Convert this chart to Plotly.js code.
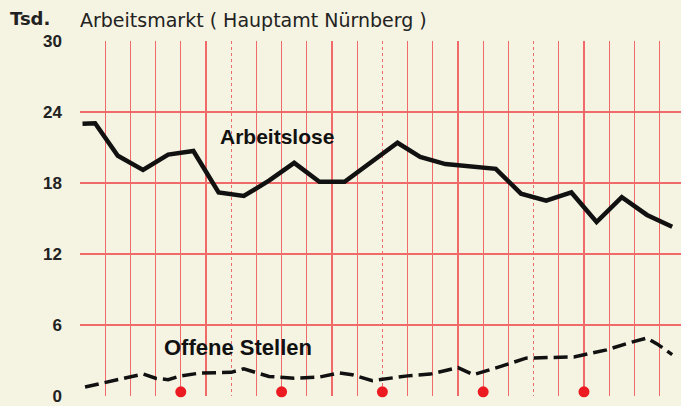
<!DOCTYPE html>
<html>
<head>
<meta charset="utf-8">
<script src="https://cdn.plot.ly/plotly-3.0.1.min.js"></script>
<style>
  html, body { margin: 0; padding: 0; background: #f5f3e1; }
  #chart { width: 681px; height: 406px; }
</style>
</head>
<body>
<div id="chart"></div>
<script>
// months since start of chart (0 = left edge), values in Tsd.
const monthsArbeitslose = [0.1, 0.6, 1.5, 2.5, 3.5, 4.5, 5.5, 6.5, 7.5, 8.5, 9.5, 10.5, 12.6, 13.5, 14.5, 15.5, 16.5, 17.5, 18.5, 19.5, 20.5, 21.5, 22.5, 23.5];
const arbeitslose = [23.0, 23.05, 20.3, 19.1, 20.4, 20.7, 17.2, 16.9, 18.2, 19.7, 18.1, 18.1, 21.4, 20.2, 19.6, 19.4, 19.2, 17.1, 16.5, 17.2, 14.7, 16.8, 15.3, 14.3];

const monthsOffene = [0.2, 0.5, 1.5, 2.5, 3.0, 3.5, 4.0, 4.8, 6.0, 6.5, 7.5, 8.5, 9.5, 10.3, 10.8, 11.6, 13.0, 13.9, 15.0, 15.6, 16.7, 17.7, 19.6, 20.9, 21.8, 22.5, 22.9, 23.5];
const offeneStellen = [0.76, 0.9, 1.4, 1.86, 1.5, 1.38, 1.7, 1.95, 2.0, 2.3, 1.65, 1.5, 1.6, 1.95, 1.8, 1.3, 1.7, 1.85, 2.4, 1.8, 2.5, 3.2, 3.3, 3.9, 4.5, 4.9, 4.4, 3.5];

const markerMonths = [4, 8, 12, 16, 20];
const markerLevel = [0.35, 0.35, 0.35, 0.35, 0.35];

const yTicks = [0, 6, 12, 18, 24, 30];
const solidMonths = [1, 2, 3, 4, 5, 7, 8, 9, 10, 11, 13, 14, 15, 16, 17, 19, 20, 21, 22, 23];
const dottedMonths = [0, 6, 12, 18];

const gridRed = "#f06a6a";
const helv = "Liberation Sans, Arial, sans-serif";
const wide = "DejaVu Sans, sans-serif";

const traces = [
    {
        x: monthsArbeitslose, y: arbeitslose,
        mode: "lines", type: "scatter",
        line: { color: "#111", width: 4.5 },
        hoverinfo: "skip"
    },
    {
        x: monthsOffene, y: offeneStellen,
        mode: "lines", type: "scatter",
        line: { color: "#111", width: 3.5, dash: "14px,6px" },
        hoverinfo: "skip"
    },
    {
        x: markerMonths, y: markerLevel,
        mode: "markers", type: "scatter",
        marker: { color: "#ec1b22", size: 11 },
        cliponaxis: false,
        hoverinfo: "skip"
    },
    // empty trace to activate the dotted-grid axis
    { x: [0], y: [0], xaxis: "x2", mode: "markers", marker: { opacity: 0 }, hoverinfo: "skip" }
];

const layout = {
    width: 681, height: 406,
    margin: { l: 80, r: 0, t: 41, b: 10 },
    paper_bgcolor: "#f5f3e1",
    plot_bgcolor: "#f5f3e1",
    showlegend: false,
    font: { family: helv, color: "#222" },
    xaxis: {
        range: [0, 23.85],
        tickvals: solidMonths,
        showticklabels: false,
        ticks: "",
        showgrid: true, gridcolor: gridRed, gridwidth: 1.3,
        zeroline: false, showline: false
    },
    xaxis2: {
        overlaying: "x", matches: "x",
        range: [0, 23.85],
        tickvals: dottedMonths,
        showticklabels: false,
        ticks: "",
        showgrid: true, gridcolor: gridRed, gridwidth: 1.3, griddash: "dot",
        zeroline: false, showline: false
    },
    yaxis: {
        range: [0, 30],
        tickvals: yTicks,
        ticktext: yTicks.map(String),
        ticks: "",
        ticklabelstandoff: 17,
        ticklabeloverflow: "allow",
        tickfont: { size: 17, color: "#222", family: helv, weight: "bold" },
        showgrid: true, gridcolor: gridRed, gridwidth: 1.3,
        zeroline: false, showline: false
    },
    annotations: [
        { text: "<b>Tsd.</b>", xref: "paper", yref: "paper", x: -0.12, y: 1.062, xanchor: "left", yanchor: "middle", showarrow: false, font: { size: 18, color: "#222", family: wide } },
        { text: "Arbeitsmarkt ( Hauptamt Nürnberg )", xref: "paper", yref: "paper", x: -0.003, y: 1.06, xanchor: "left", yanchor: "middle", showarrow: false, font: { size: 19, color: "#222", family: wide } },
        { text: "<b>Arbeitslose</b>", xref: "x", yref: "y", x: 7.8, y: 21.9, xanchor: "center", yanchor: "middle", showarrow: false, font: { size: 21, color: "#111" } },
        { text: "<b>Offene Stellen</b>", xref: "x", yref: "y", x: 6.27, y: 4.14, xanchor: "center", yanchor: "middle", showarrow: false, font: { size: 22, color: "#111" } },
        { text: "<b>1977</b>", xref: "x", yref: "paper", x: 21.9, y: -0.02, yshift: -2, xanchor: "center", yanchor: "top", showarrow: false, font: { size: 16, color: "#222" } }
    ]
};

Plotly.newPlot("chart", traces, layout, { staticPlot: true });
</script>
</body>
</html>
